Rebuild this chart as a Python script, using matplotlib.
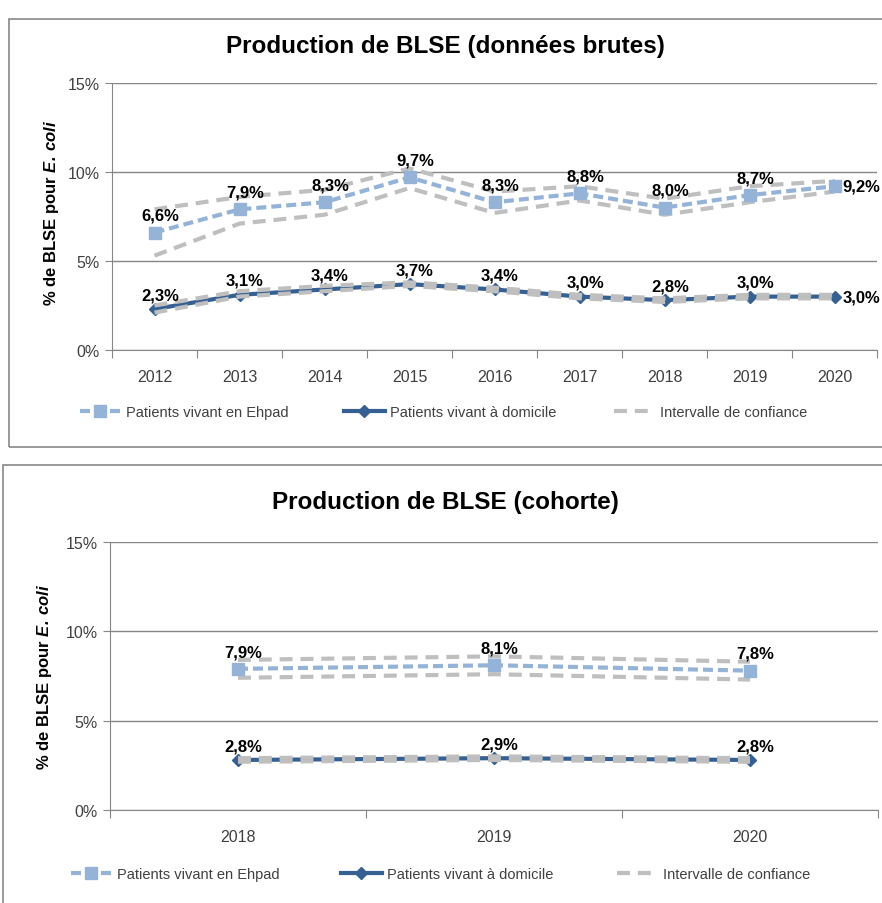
import numpy as np
import matplotlib.pyplot as plt
from matplotlib.lines import Line2D
from matplotlib.patches import Rectangle

plt.rcParams['font.family'] = ['Liberation Sans', 'DejaVu Sans']
plt.rcParams['mathtext.fontset'] = 'custom'
plt.rcParams['mathtext.rm'] = 'Liberation Sans'
plt.rcParams['mathtext.bfit'] = 'Liberation Sans:italic:bold'

# donnees brutes
years_a = ['2012', '2013', '2014', '2015', '2016', '2017', '2018', '2019', '2020']
ehpad_a = [6.6, 7.9, 8.3, 9.7, 8.3, 8.8, 8.0, 8.7, 9.2]
ehpad_a_hi = [7.9, 8.6, 9.0, 10.2, 8.9, 9.2, 8.5, 9.2, 9.5]
ehpad_a_lo = [5.3, 7.1, 7.6, 9.1, 7.7, 8.4, 7.6, 8.3, 8.9]
dom_a = [2.3, 3.1, 3.4, 3.7, 3.4, 3.0, 2.8, 3.0, 3.0]
dom_a_hi = [2.5, 3.3, 3.6, 3.8, 3.5, 3.1, 2.9, 3.1, 3.1]
dom_a_lo = [2.1, 3.0, 3.3, 3.6, 3.3, 2.9, 2.7, 2.9, 2.9]

# cohorte
years_b = ['2018', '2019', '2020']
ehpad_b = [7.9, 8.1, 7.8]
ehpad_b_hi = [8.4, 8.6, 8.3]
ehpad_b_lo = [7.4, 7.6, 7.3]
dom_b = [2.8, 2.9, 2.8]
dom_b_hi = [2.9, 3.0, 2.9]
dom_b_lo = [2.7, 2.8, 2.7]

yticks = [0, 5, 10, 15]
ytick_labels = ['0%', '5%', '10%', '15%']
leg_labels = ['Patients vivant en Ehpad', 'Patients vivant à domicile',
              'Intervalle de confiance']

light = '#95b3d7'
dark = '#366092'
grey = '#bfbfbf'
axis_col = '#868686'
txt_col = '#404040'

W, H = 882, 904
fig = plt.figure(figsize=(W / 100, H / 100), dpi=100)
fig.patch.set_facecolor('white')


def fx(px):
    return px / W


def fy(py):
    return 1 - py / H


def lab(v):
    return ('%.1f%%' % v).replace('.', ',')


def draw(ax, years, eh, eh_hi, eh_lo, dom, dom_hi, dom_lo, last_right):
    x = np.arange(len(years))
    ax.plot(x, dom, color=dark, lw=3, marker='D', ms=6, zorder=3)
    for s in (dom_hi, dom_lo, eh_hi, eh_lo):
        ax.plot(x, s, color=grey, lw=3, dashes=(3.1, 1.9), zorder=4)
    ax.plot(x, eh, color=light, lw=3, dashes=(2.4, 1.2), marker='s', ms=9,
            zorder=5)
    n = len(years)
    for i in range(n):
        for v, dy in ((eh[i], 7), (dom[i], 5)):
            if last_right and i == n - 1:
                ax.annotate(lab(v), (x[i], v), xytext=(6, 0),
                            textcoords='offset points', ha='left',
                            va='center', fontsize=12, fontweight='bold',
                            zorder=6)
            else:
                ax.annotate(lab(v), (x[i], v), xytext=(4, dy),
                            textcoords='offset points', ha='center',
                            va='bottom', fontsize=12, fontweight='bold',
                            zorder=6)
    ax.set_ylim(0, 15)
    ax.set_xlim(-0.5, n - 0.5)
    ax.set_yticks(yticks)
    ax.set_yticklabels(ytick_labels, fontsize=11.5, color=txt_col)
    ax.yaxis.grid(True, color=axis_col, lw=1)
    ax.set_axisbelow(True)
    ax.set_xticks(np.arange(n + 1) - 0.5)
    ax.set_xticklabels([])
    ax.set_xticks(x, minor=True)
    ax.set_xticklabels(years, minor=True, fontsize=11.5, color=txt_col)
    ax.tick_params(axis='x', which='major', length=6, color=axis_col,
                   direction='out')
    ax.tick_params(axis='x', which='minor', length=0, pad=14)
    ax.tick_params(axis='y', length=5, color=axis_col, direction='out',
                   pad=4)
    for s in ('top', 'right'):
        ax.spines[s].set_visible(False)
    for s in ('left', 'bottom'):
        ax.spines[s].set_color(axis_col)
    ax.set_facecolor('white')


handles = [
    Line2D([], [], color=light, lw=3, dashes=(2.4, 1.2), marker='s', ms=9),
    Line2D([], [], color=dark, lw=3, marker='D', ms=6),
    Line2D([], [], color=grey, lw=3, dashes=(3.1, 1.9)),
]


def legend_row(xs, ypx):
    for h, t, xp in zip(handles, leg_labels, xs):
        fig.legend([h], [t], loc='center left',
                   bbox_to_anchor=(fx(xp), fy(ypx)), frameon=False,
                   fontsize=10.5, handlelength=2.8, handletextpad=0.35,
                   borderpad=0, borderaxespad=0, labelcolor=txt_col)


# frames
fig.add_artist(Rectangle((fx(9), fy(448)), fx(900 - 9), fy(20) - fy(448),
                         transform=fig.transFigure, fill=False,
                         edgecolor='#888888', lw=1.2))
fig.add_artist(Rectangle((fx(3), fy(920)), fx(900 - 3), fy(466) - fy(920),
                         transform=fig.transFigure, fill=False,
                         edgecolor='#888888', lw=1.2))

ylab = r'% de BLSE pour $\mathbfit{E.\,coli}$'

ax1 = fig.add_axes([fx(112), fy(351), fx(765), fy(84) - fy(351)])
draw(ax1, years_a, ehpad_a, ehpad_a_hi, ehpad_a_lo, dom_a, dom_a_hi,
     dom_a_lo, True)
fig.text(fx(445), fy(47), 'Production de BLSE (données brutes)', ha='center',
         va='center', fontsize=17.5, fontweight='bold')
fig.text(fx(52), fy(213), ylab, rotation=90, ha='center', va='center',
         fontsize=12, fontweight='bold')
legend_row([80, 344, 614], 413)

ax2 = fig.add_axes([fx(110), fy(811), fx(768), fy(543) - fy(811)])
draw(ax2, years_b, ehpad_b, ehpad_b_hi, ehpad_b_lo, dom_b, dom_b_hi,
     dom_b_lo, False)
fig.text(fx(445), fy(503), 'Production de BLSE (cohorte)', ha='center',
         va='center', fontsize=17.5, fontweight='bold')
fig.text(fx(45), fy(677), ylab, rotation=90, ha='center', va='center',
         fontsize=12, fontweight='bold')
legend_row([71, 341, 617], 875)

fig.savefig('out.png', dpi=100)
